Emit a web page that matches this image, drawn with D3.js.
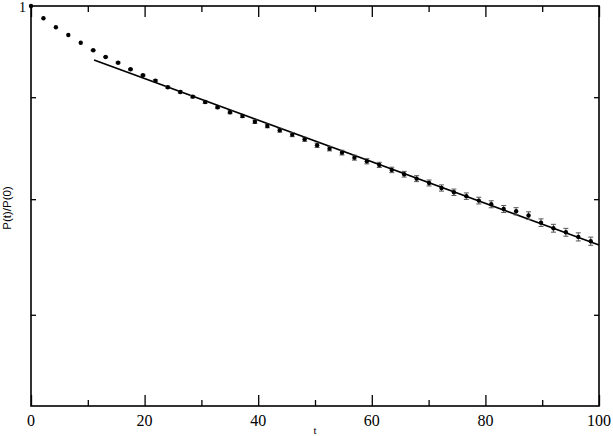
<!DOCTYPE html>
<html>
<head>
<meta charset="utf-8">
<script src="https://cdn.jsdelivr.net/npm/d3@7"></script>
<style>
  body { margin: 0; background: #fff; }
  text { fill: #000; }
</style>
</head>
<body>
<div id="chart"></div>
<script>
// sample times
var times = [0, 2.19, 4.38, 6.57, 8.76, 10.95, 13.14, 15.33, 17.52, 19.71,
    21.9, 24.09, 26.28, 28.47, 30.66, 32.85, 35.04, 37.23, 39.42, 41.61,
    43.8, 45.99, 48.18, 50.37, 52.56, 54.75, 56.94, 59.13, 61.32, 63.51,
    65.7, 67.89, 70.08, 72.27, 74.46, 76.65, 78.84, 81.03, 83.22, 85.41,
    87.6, 89.79, 91.98, 94.17, 96.36, 98.55]

// P(t)/P(0)
var ratio = [1.0, 0.9859, 0.9757, 0.9671, 0.9585, 0.9501, 0.9428, 0.9366, 0.9295, 0.9231,
    0.9173, 0.9104, 0.9055, 0.9006, 0.8950, 0.8896, 0.8845, 0.8807, 0.8749, 0.8706,
    0.8663, 0.8619, 0.8573, 0.8514, 0.8481, 0.8442, 0.8393, 0.8358, 0.8323, 0.8275,
    0.8234, 0.8192, 0.8151, 0.8104, 0.8064, 0.8028, 0.7987, 0.7953, 0.7910, 0.7889,
    0.7850, 0.7786, 0.7736, 0.7700, 0.7659, 0.7621]

// error bars (half width)
var errors = [0, 0, 0, 0, 0, 0.0005, 0.0006, 0.0007, 0.0008, 0.0009,
    0.001, 0.001, 0.0011, 0.0012, 0.0013, 0.0014, 0.0015, 0.0016, 0.0017, 0.0018,
    0.0019, 0.002, 0.002, 0.0021, 0.0022, 0.0023, 0.0024, 0.0025, 0.0025, 0.0026,
    0.0027, 0.0028, 0.0028, 0.0029, 0.003, 0.003, 0.0031, 0.0032, 0.0032, 0.0033,
    0.0034, 0.0034, 0.0035, 0.0035, 0.0036, 0.0036]

// fitted exponential, end points
var fitT = [11.1, 100]
var fitP = [0.9395, 0.7588]

var xMajor = [0, 20, 40, 60, 80, 100]
var xMinor = [10, 30, 50, 70, 90]
var yTicks = [0.9, 0.8, 0.7]

var width = 613
var height = 436
var margin = { top: 6, right: 14, bottom: 30, left: 31 }

var svg = d3.select('#chart').append('svg')
    .attr('width', width)
    .attr('height', height)

var x = d3.scaleLinear()
    .domain([0, 100])
    .range([margin.left, width - margin.right])

var y = d3.scaleLog()
    .domain([0.63, 1])
    .range([height - margin.bottom, margin.top])

var data = times.map((t, i) => ({ t: t, p: ratio[i], e: errors[i] }))

// ticks, drawn inward on all four sides
function xTicks(values, len) {
    svg.append('g')
        .attr('transform', 'translate(0,' + (height - margin.bottom) + ')')
        .call(d3.axisBottom(x).tickValues(values).tickSize(-len).tickFormat('').tickSizeOuter(0))
        .call(g => g.select('.domain').remove())
        .selectAll('line').attr('stroke-width', 1.3)
    svg.append('g')
        .attr('transform', 'translate(0,' + margin.top + ')')
        .call(d3.axisTop(x).tickValues(values).tickSize(-len).tickFormat('').tickSizeOuter(0))
        .call(g => g.select('.domain').remove())
        .selectAll('line').attr('stroke-width', 1.3)
}
xTicks(xMajor, 11)
xTicks(xMinor, 6)

svg.append('g')
    .attr('transform', 'translate(' + margin.left + ',0)')
    .call(d3.axisLeft(y).tickValues(yTicks).tickSize(-5).tickFormat(''))
    .call(g => g.select('.domain').remove())
    .selectAll('line').attr('stroke-width', 1.3)

svg.append('g')
    .attr('transform', 'translate(' + (width - margin.right) + ',0)')
    .call(d3.axisRight(y).tickValues(yTicks).tickSize(-5).tickFormat(''))
    .call(g => g.select('.domain').remove())
    .selectAll('line').attr('stroke-width', 1.3)

// frame
svg.append('rect')
    .attr('x', margin.left)
    .attr('y', margin.top)
    .attr('width', width - margin.left - margin.right)
    .attr('height', height - margin.top - margin.bottom)
    .attr('fill', 'none')
    .attr('stroke', '#000')
    .attr('stroke-width', 1.6)

// x tick labels
svg.selectAll('.xlab')
    .data(xMajor)
    .enter()
    .append('text')
    .text(d => d)
    .attr('x', d => x(d))
    .attr('y', 426)
    .attr('text-anchor', 'middle')
    .attr('font-family', 'Liberation Serif, serif')
    .attr('font-size', 16)

// y label "1" at top
svg.append('text')
    .text('1')
    .attr('x', 26)
    .attr('y', 12)
    .attr('text-anchor', 'end')
    .attr('font-family', 'Liberation Serif, serif')
    .attr('font-size', 14)

svg.append('text')
    .text('t')
    .attr('x', x(50))
    .attr('y', 434)
    .attr('text-anchor', 'middle')
    .attr('font-family', 'Liberation Serif, serif')
    .attr('font-size', 11)

svg.append('text')
    .text('P(t)/P(0)')
    .attr('transform', 'translate(11,208) rotate(-90)')
    .attr('text-anchor', 'middle')
    .attr('font-family', 'Liberation Sans, Arial, sans-serif')
    .attr('font-size', 11.5)

// fit line
var line = d3.line()
    .x(d => x(d[0]))
    .y(d => y(d[1]))

svg.append('path')
    .datum(fitT.map((t, i) => [t, fitP[i]]))
    .attr('d', line)
    .attr('fill', 'none')
    .attr('stroke', '#000')
    .attr('stroke-width', 1.6)

// error bars
var bars = svg.selectAll('.err')
    .data(data.filter(d => d.e > 0))
    .enter()
    .append('g')
    .attr('stroke', '#555')
    .attr('stroke-width', 1)

bars.append('line')
    .attr('x1', d => x(d.t))
    .attr('x2', d => x(d.t))
    .attr('y1', d => y(d.p - d.e))
    .attr('y2', d => y(d.p + d.e))

bars.append('line')
    .attr('x1', d => x(d.t) - 2.5)
    .attr('x2', d => x(d.t) + 2.5)
    .attr('y1', d => y(d.p - d.e))
    .attr('y2', d => y(d.p - d.e))

bars.append('line')
    .attr('x1', d => x(d.t) - 2.5)
    .attr('x2', d => x(d.t) + 2.5)
    .attr('y1', d => y(d.p + d.e))
    .attr('y2', d => y(d.p + d.e))

// points
svg.selectAll('.pt')
    .data(data)
    .enter()
    .append('circle')
    .attr('cx', d => x(d.t))
    .attr('cy', d => y(d.p))
    .attr('r', 2.2)
    .attr('fill', '#000')
</script>
</body>
</html>
